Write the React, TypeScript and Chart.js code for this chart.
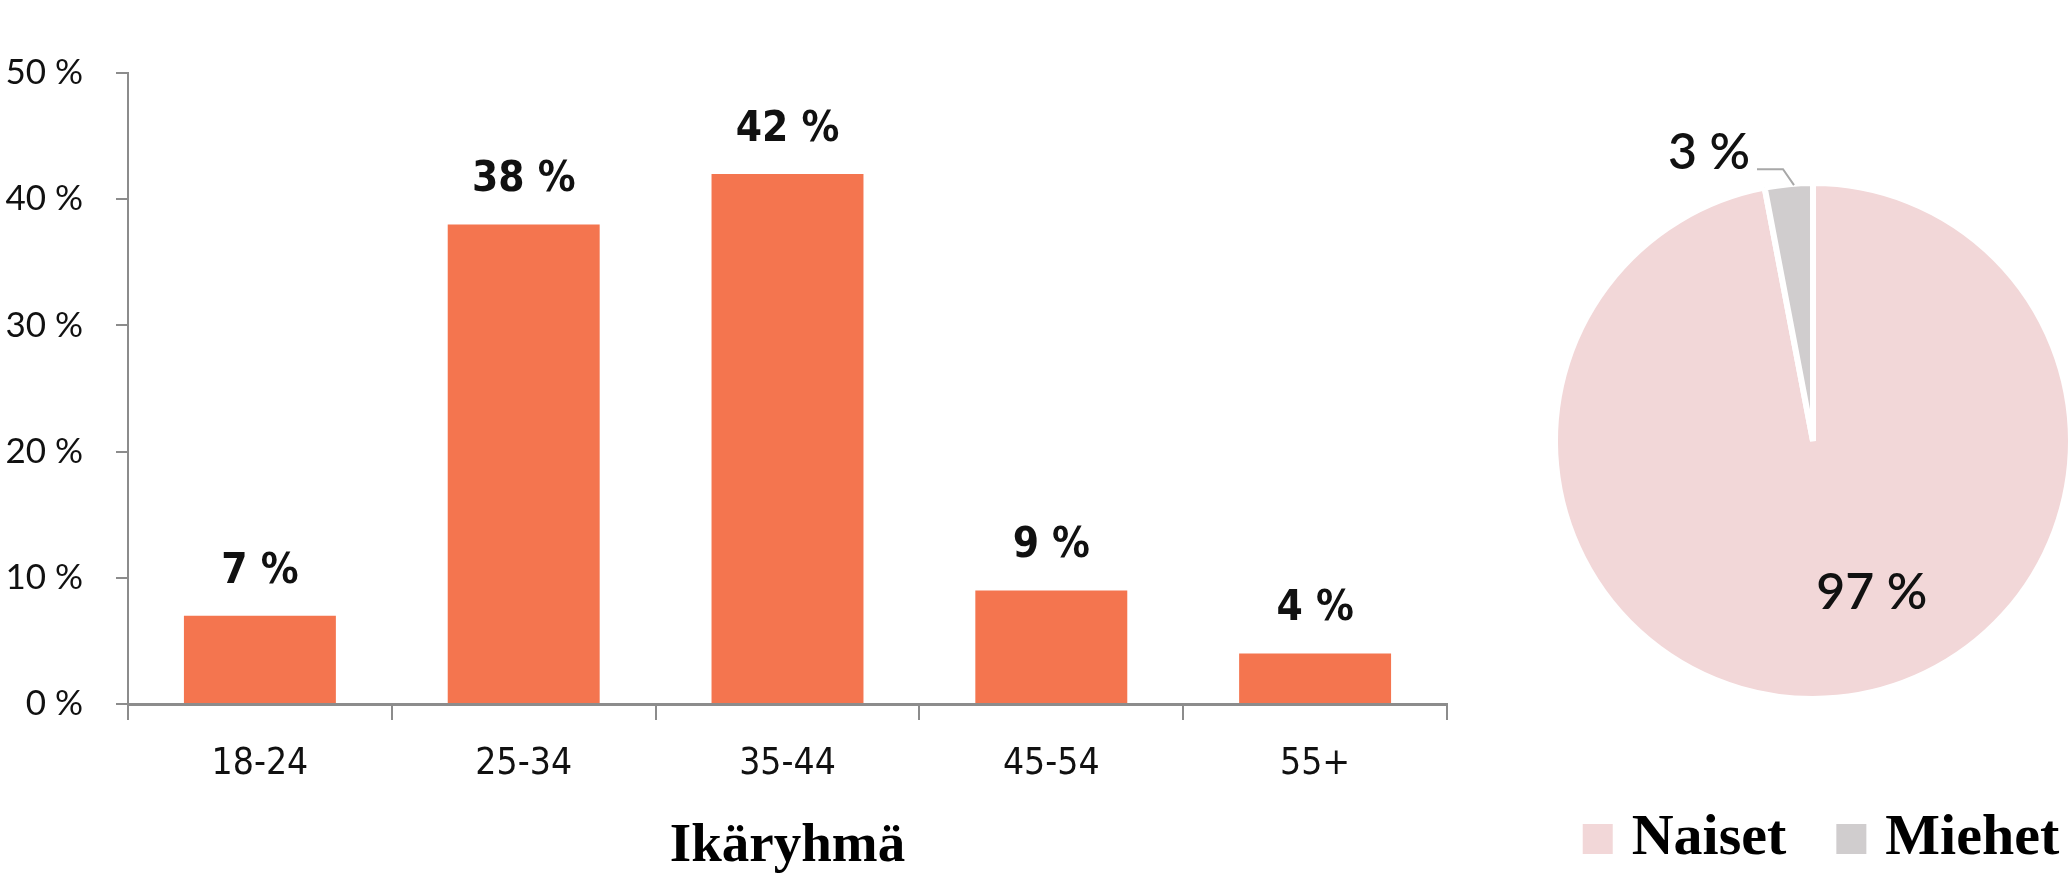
import React, { useEffect, useRef } from "react";
import { Chart, registerables } from "chart.js";

Chart.register(...registerables);

// ---- data ----
const ageGroups = ["18-24", "25-34", "35-44", "45-54", "55+"];
const ageShares = [7, 38, 42, 9, 4];
const yTickValues = [0, 10, 20, 30, 40, 50];
const xAxisTitle = "Ikäryhmä";
const genderLabels = ["Naiset", "Miehet"];
const genderShares = [97, 3];

// ---- styles ----
const ORANGE = "#F4754F";
const PINK = "#F2D7D8";
const GREY = "#D0CDCE";
const AXIS = "#8C8C8C";
const INK = "#111111";
const NARROW = "'Liberation Sans Narrow', 'DejaVu Sans Condensed', 'Roboto', sans-serif";
const GEO = "Lato, 'Noto Sans', sans-serif";
const SERIF = "'Liberation Serif', 'DejaVu Serif', serif";

const barLabelPlugin = {
  id: "barLabels",
  afterDatasetsDraw(chart: any) {
    const ctx = chart.ctx;
    const meta = chart.getDatasetMeta(0);
    ctx.save();
    ctx.font = `bold 42px ${NARROW}`;
    ctx.fillStyle = INK;
    ctx.textAlign = "center";
    ctx.textBaseline = "middle";
    meta.data.forEach((el: any, i: number) => {
      ctx.fillText(`${ageShares[i]} %`, el.x, el.y - 44);
    });
    ctx.restore();
  },
};

const pieLabelPlugin = {
  id: "pieLabels",
  afterDatasetsDraw(chart: any) {
    const ctx = chart.ctx;
    const meta = chart.getDatasetMeta(0);
    const big = meta.data[0].getProps(["x", "y", "startAngle", "endAngle", "outerRadius"], true);
    const small = meta.data[1].getProps(["x", "y", "startAngle", "endAngle", "outerRadius"], true);
    const r = big.outerRadius - 3;
    ctx.save();
    ctx.fillStyle = INK;
    ctx.font = `600 50px ${GEO}`;
    // large slice label
    const a = big.startAngle + (big.endAngle - big.startAngle) * 0.455;
    const d = r * 0.64;
    ctx.textAlign = "center";
    ctx.textBaseline = "middle";
    ctx.fillText(`${genderShares[0]} %`, big.x + Math.cos(a) * d, big.y + Math.sin(a) * d);
    // small slice label with leader line
    const m = (small.startAngle + small.endAngle) / 2;
    const px = small.x + Math.cos(m) * r + 5;
    const py = small.y + Math.sin(m) * r - 2;
    const ex = px - 11;
    const ey = py - 16;
    const hx = ex - 26;
    ctx.strokeStyle = "#A8A8A8";
    ctx.lineWidth = 2;
    ctx.beginPath();
    ctx.moveTo(px, py);
    ctx.lineTo(ex, ey);
    ctx.lineTo(hx, ey);
    ctx.stroke();
    ctx.textAlign = "right";
    ctx.textBaseline = "alphabetic";
    ctx.fillText(`${genderShares[1]} %`, hx - 7, ey);
    ctx.restore();
  },
};

const pieLegendPlugin = {
  id: "pieLegend",
  afterDraw(chart: any) {
    const ctx = chart.ctx;
    const colors = chart.data.datasets[0].backgroundColor as string[];
    const labels = chart.data.labels as string[];
    const box = 30;
    const gap = 19;
    const itemGap = 50;
    ctx.save();
    ctx.font = `bold 58px ${SERIF}`;
    const widths = labels.map((l) => ctx.measureText(l).width);
    const total =
      labels.length * (box + gap) + widths.reduce((s, w) => s + w, 0) + itemGap * (labels.length - 1);
    const cx = (chart.chartArea.left + chart.chartArea.right) / 2 + 8;
    const boxTop = chart.chartArea.bottom + 125;
    let x = cx - total / 2;
    labels.forEach((l, i) => {
      ctx.fillStyle = colors[i];
      ctx.fillRect(x, boxTop, box, box);
      x += box + gap;
      ctx.fillStyle = "#000";
      ctx.textAlign = "left";
      ctx.textBaseline = "alphabetic";
      ctx.fillText(l, x, boxTop + box);
      x += widths[i] + itemGap;
    });
    ctx.restore();
  },
};

export default function App() {
  const barRef = useRef<HTMLCanvasElement>(null);
  const pieRef = useRef<HTMLCanvasElement>(null);

  useEffect(() => {
    const bar = new Chart(barRef.current!, {
      type: "bar",
      data: {
        labels: ageGroups,
        datasets: [
          {
            data: ageShares,
            backgroundColor: ORANGE,
            borderWidth: 0,
            categoryPercentage: 1,
            barPercentage: 0.576,
          },
        ],
      },
      options: {
        responsive: false,
        animation: false,
        devicePixelRatio: 1,
        events: [],
        layout: { padding: { top: 73, right: 33, bottom: 0, left: 0 } },
        plugins: { legend: { display: false }, tooltip: { enabled: false } },
        scales: {
          x: {
            afterFit: (s: any) => {
              s.height = 190;
            },
            grid: {
              drawOnChartArea: false,
              drawTicks: true,
              tickLength: 16,
              color: AXIS,
              lineWidth: 2,
              offset: true,
            },
            border: { display: true, color: AXIS, width: 3 },
            ticks: {
              color: INK,
              padding: 22,
              font: { family: NARROW, size: 37 },
            },
            title: {
              display: true,
              text: xAxisTitle,
              color: "#000",
              font: { family: SERIF, size: 55, weight: "bold", lineHeight: 1 },
              padding: { top: 0, bottom: 20 },
            },
          },
          y: {
            min: yTickValues[0],
            max: yTickValues[yTickValues.length - 1],
            afterFit: (s: any) => {
              s.width = 128;
            },
            afterBuildTicks: (s: any) => {
              s.ticks = yTickValues.map((v) => ({ value: v }));
            },
            grid: {
              drawOnChartArea: false,
              drawTicks: true,
              tickLength: 12,
              color: AXIS,
              lineWidth: 2,
            },
            border: { display: true, color: AXIS, width: 2 },
            ticks: {
              color: INK,
              padding: 33,
              font: { family: GEO, size: 35 },
              callback: (v: any) => `${v} %`,
            },
          },
        },
      },
      plugins: [barLabelPlugin],
    });

    const pie = new Chart(pieRef.current!, {
      type: "pie",
      data: {
        labels: genderLabels,
        datasets: [
          {
            data: genderShares,
            backgroundColor: [PINK, GREY],
            borderColor: "#ffffff",
            borderWidth: 6,
            radius: 258,
            clip: false,
          } as any,
        ],
      },
      options: {
        responsive: false,
        animation: false,
        devicePixelRatio: 1,
        events: [],
        layout: { padding: { top: 183, bottom: 195, left: 0, right: 0 } },
        plugins: { legend: { display: false }, tooltip: { enabled: false } },
      },
      plugins: [pieLabelPlugin, pieLegendPlugin],
    });

    return () => {
      bar.destroy();
      pie.destroy();
    };
  }, []);

  return (
    <div
      style={{
        position: "fixed",
        left: 0,
        top: 0,
        width: 2072,
        height: 894,
        background: "#fff",
        overflow: "hidden",
      }}
    >
      <canvas
        ref={barRef}
        width={1480}
        height={894}
        style={{ position: "absolute", left: 0, top: 0, width: 1480, height: 894 }}
      />
      <canvas
        ref={pieRef}
        width={546}
        height={894}
        style={{ position: "absolute", left: 1540, top: 0, width: 546, height: 894 }}
      />
    </div>
  );
}
